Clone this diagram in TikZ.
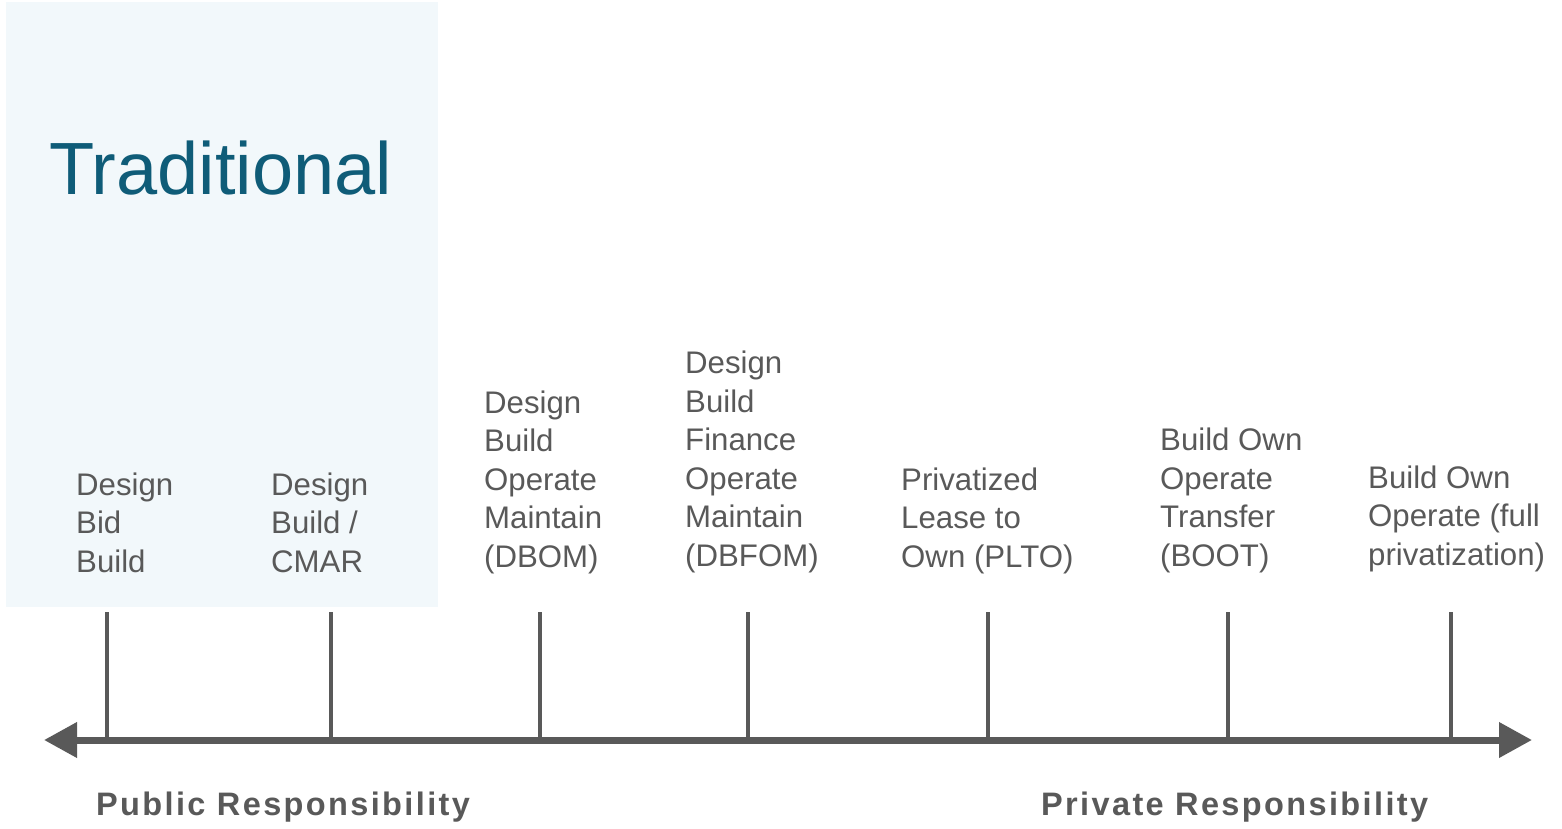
\documentclass[tikz,border=0pt]{standalone}
\usepackage{fontspec}
\setmainfont{Liberation Sans}
\usetikzlibrary{arrows.meta}
\definecolor{axisgray}{HTML}{595959}
\definecolor{tealtxt}{HTML}{0F5C78}
\definecolor{bgblue}{HTML}{F2F8FB}
\tikzset{
  lbl/.style={anchor=base west, inner sep=0pt, align=left, text=axisgray,
    font=\fontsize{31.2}{38.5}\selectfont},
  resp/.style={anchor=base west, inner sep=0pt, text=axisgray,
    font=\fontsize{32.5}{36}\selectfont\bfseries\addfontfeatures{LetterSpace=7.3}},
  tick/.style={draw=axisgray, line width=4pt},
  axisline/.style={draw=axisgray, line width=7pt,
    {Triangle[length=33pt,width=34pt]}-{Triangle[length=33pt,width=34pt]}}
}
\begin{document}
\begin{tikzpicture}[x=1pt,y=-1pt]
\useasboundingbox (0,0) rectangle (1562,829);
\fill[bgblue] (6,2) rectangle (438,607);
\node[anchor=base west, inner sep=0pt, text=tealtxt, font=\fontsize{74}{80}\selectfont] (trad) at (49,194) {Traditional};
% axis
\coordinate (L) at (44,740);
\coordinate (R) at (1532,740);
\draw[axisline] (L) -- (R);
% ticks
\foreach \n/\x in {t1/107,t2/331,t3/540,t4/748,t5/988,t6/1228,t7/1451}{
  \coordinate (\n top) at (\x,612);
  \coordinate (\n bot) at (\x,740);
  \draw[tick] (\n top) -- (\n bot);
}
% labels (anchor = baseline of last line)
\node[lbl] (c1) at (76,572) {Design\\Bid\\Build};
\node[lbl] (c2) at (271,572) {Design\\Build /\\CMAR};
\node[lbl] (c3) at (484,567) {Design\\Build\\Operate\\Maintain\\(DBOM)};
\node[lbl] (c4) at (685,566) {Design\\Build\\Finance\\Operate\\Maintain\\(DBFOM)};
\node[lbl] (c5) at (901,567) {Privatized\\Lease to\\Own (PLTO)};
\node[lbl] (c6) at (1160,566) {Build Own\\Operate\\Transfer\\(BOOT)};
\node[lbl] (c7) at (1368,565) {Build Own\\Operate (full\\privatization)};
% bottom labels
\node[resp] (pub) at (96,815) {Public Responsibility};
\node[resp] (priv) at (1041,815) {Private Responsibility};
\end{tikzpicture}
\end{document}
